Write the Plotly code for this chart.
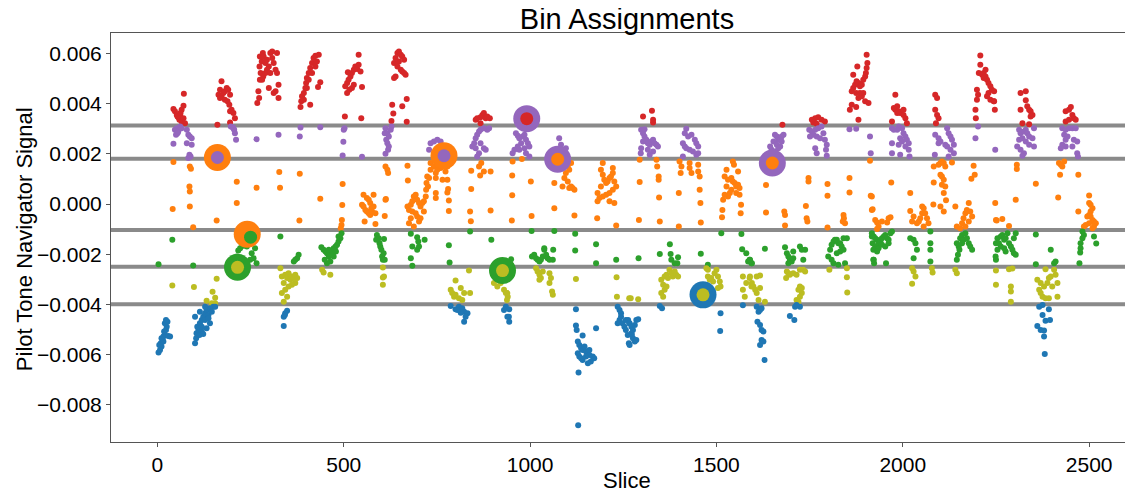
import plotly.graph_objects as go

# ---------------- data (slice index, pilot-tone signal) ----------------
bin_names = ["Bin 1", "Bin 2", "Bin 3", "Bin 4", "Bin 5", "Bin 6"]
bin_colors = ["#d62728", "#9467bd", "#ff7f0e", "#2ca02c", "#bcbd22", "#1f77b4"]
thresholds = [3.14e-3, 1.81e-3, -1.03e-3, -2.50e-3, -3.99e-3]

red_points = [
    (43, 3.79e-3), (47, 3.70e-3), (52, 3.56e-3), (56, 3.47e-3), (61, 3.56e-3), (65, 3.76e-3), (70, 3.92e-3), (71, 4.40e-3),
    (59, 3.37e-3), (65, 3.30e-3), (70, 3.43e-3), (74, 3.23e-3), (54, 3.50e-3), (62, 3.63e-3),
    (172, 4.90e-3), (168, 4.56e-3), (164, 4.36e-3), (172, 4.30e-3), (177, 4.43e-3), (181, 4.50e-3), (186, 4.63e-3), (190, 4.56e-3),
    (195, 4.36e-3), (168, 4.23e-3), (181, 4.16e-3), (188, 4.10e-3), (193, 3.96e-3), (199, 3.76e-3), (195, 3.70e-3), (204, 3.63e-3),
    (208, 3.43e-3), (195, 3.26e-3), (161, 3.17e-3),
    (271, 4.50e-3), (268, 4.03e-3), (273, 4.23e-3), (275, 4.96e-3), (277, 5.23e-3), (274, 5.49e-3), (280, 5.69e-3), (275, 5.89e-3),
    (283, 6.03e-3), (284, 5.09e-3),
    (285, 5.89e-3), (290, 5.63e-3), (294, 5.76e-3), (299, 5.49e-3), (303, 6.03e-3), (308, 5.83e-3), (312, 5.63e-3), (317, 5.36e-3),
    (321, 5.23e-3), (308, 6.09e-3), (321, 6.03e-3), (290, 5.23e-3), (281, 4.96e-3), (299, 4.63e-3), (317, 4.50e-3), (325, 4.76e-3),
    (325, 4.23e-3), (312, 4.43e-3), (294, 5.36e-3), (303, 5.23e-3),
    (384, 3.87e-3), (386, 4.10e-3), (388, 4.30e-3), (393, 4.43e-3), (397, 4.63e-3), (399, 4.83e-3), (401, 5.03e-3), (406, 5.23e-3),
    (410, 5.43e-3), (415, 5.63e-3), (419, 5.83e-3), (424, 5.92e-3), (433, 5.96e-3), (406, 4.96e-3), (415, 5.23e-3), (424, 5.49e-3),
    (428, 5.69e-3), (410, 3.96e-3), (431, 4.67e-3), (437, 4.86e-3), (393, 4.16e-3), (401, 4.63e-3),
    (503, 3.50e-3), (504, 4.70e-3), (509, 4.83e-3), (513, 4.96e-3), (518, 5.09e-3), (522, 5.23e-3), (527, 5.36e-3), (531, 5.49e-3),
    (536, 5.39e-3), (540, 5.56e-3), (545, 5.29e-3), (540, 5.96e-3), (509, 4.43e-3), (515, 4.56e-3), (522, 4.63e-3), (527, 4.76e-3),
    (549, 4.67e-3), (547, 3.43e-3), (511, 5.26e-3),
    (635, 5.63e-3), (639, 5.83e-3), (644, 6.03e-3), (648, 6.09e-3), (653, 5.96e-3), (657, 5.89e-3), (662, 5.76e-3), (648, 5.69e-3),
    (644, 5.49e-3), (653, 5.36e-3), (657, 5.29e-3), (662, 5.23e-3), (639, 5.09e-3), (666, 5.16e-3), (635, 5.03e-3), (630, 3.96e-3),
    (633, 3.61e-3), (657, 3.90e-3), (669, 4.19e-3), (669, 3.29e-3), (628, 3.32e-3),
    (854, 3.37e-3), (858, 3.43e-3), (867, 3.47e-3), (872, 3.56e-3), (876, 3.63e-3), (881, 3.43e-3), (885, 3.50e-3), (892, 3.43e-3),
    (867, 3.23e-3),
    (1303, 3.50e-3), (1327, 3.72e-3), (1330, 3.37e-3), (1330, 3.26e-3),
    (1677, 3.17e-3), (1756, 3.37e-3), (1765, 3.43e-3), (1773, 3.47e-3), (1782, 3.37e-3), (1791, 3.30e-3), (1760, 3.26e-3), (1769, 3.21e-3),
    (1858, 3.76e-3), (1863, 3.96e-3), (1863, 4.50e-3), (1867, 4.63e-3), (1872, 4.76e-3), (1876, 4.90e-3), (1881, 4.83e-3), (1885, 4.70e-3),
    (1890, 4.76e-3), (1894, 4.96e-3), (1899, 5.09e-3), (1901, 5.23e-3), (1903, 5.43e-3), (1905, 5.63e-3), (1903, 5.96e-3), (1878, 5.49e-3),
    (1867, 5.16e-3), (1875, 4.43e-3), (1881, 4.23e-3), (1890, 4.30e-3), (1899, 4.10e-3), (1908, 4.03e-3), (1894, 4.43e-3), (1885, 4.43e-3),
    (1881, 3.37e-3), (1875, 3.87e-3),
    (1980, 4.36e-3), (1976, 3.83e-3), (1980, 3.76e-3), (1985, 3.90e-3), (1989, 3.70e-3), (1993, 3.63e-3), (2002, 3.76e-3), (2002, 3.56e-3),
    (2007, 3.43e-3), (2011, 3.23e-3), (1971, 3.30e-3), (1985, 3.63e-3),
    (2087, 4.36e-3), (2092, 4.23e-3), (2087, 3.76e-3), (2092, 3.56e-3), (2096, 3.43e-3), (2089, 3.23e-3),
    (2208, 5.93e-3), (2208, 5.56e-3), (2204, 5.23e-3), (2213, 5.16e-3), (2217, 5.23e-3), (2222, 5.09e-3), (2226, 4.96e-3), (2230, 4.83e-3),
    (2235, 4.70e-3), (2239, 4.56e-3), (2230, 4.43e-3), (2226, 4.30e-3), (2235, 4.16e-3), (2244, 4.10e-3), (2199, 4.56e-3), (2202, 4.36e-3),
    (2199, 4.16e-3), (2195, 3.76e-3), (2196, 3.43e-3), (2222, 5.36e-3), (2217, 5.03e-3),
    (2245, 4.50e-3), (2245, 4.10e-3), (2247, 3.76e-3),
    (2316, 4.43e-3), (2330, 4.50e-3), (2330, 4.14e-3), (2316, 3.76e-3), (2334, 3.90e-3), (2339, 3.76e-3), (2343, 3.70e-3), (2348, 3.56e-3),
    (2343, 3.50e-3), (2321, 3.23e-3), (2339, 3.19e-3),
    (2437, 3.70e-3), (2446, 3.76e-3), (2451, 3.87e-3), (2455, 3.56e-3), (2459, 3.43e-3), (2464, 3.37e-3), (2446, 3.37e-3), (2437, 3.30e-3),
]

purple_points = [
    (43, 2.41e-3), (47, 2.97e-3), (52, 3.03e-3), (56, 2.90e-3), (61, 3.10e-3), (50, 2.77e-3), (54, 2.83e-3), (65, 3.03e-3),
    (79, 2.97e-3), (83, 2.77e-3), (87, 2.70e-3), (92, 2.63e-3), (79, 2.43e-3), (92, 2.37e-3), (86, 1.97e-3), (89, 1.90e-3), (83, 1.84e-3),
    (197, 3.10e-3), (202, 3.07e-3), (206, 2.97e-3), (208, 2.83e-3), (211, 2.57e-3), (204, 3.03e-3), (266, 2.59e-3),
    (325, 2.77e-3), (384, 3.06e-3), (382, 2.70e-3), (437, 3.07e-3), (500, 2.97e-3), (502, 3.03e-3), (499, 2.49e-3), (497, 1.94e-3),
    (549, 1.89e-3), (610, 2.83e-3), (614, 2.57e-3), (612, 2.01e-3),
    (612, 3.03e-3), (617, 2.83e-3), (621, 2.70e-3), (626, 2.97e-3), (617, 2.43e-3), (619, 2.17e-3), (621, 2.30e-3), (628, 3.10e-3),
    (733, 2.43e-3), (742, 2.50e-3), (751, 2.57e-3), (760, 2.50e-3), (729, 2.17e-3),
    (845, 2.30e-3), (850, 2.43e-3), (854, 2.63e-3), (858, 2.77e-3), (863, 2.90e-3), (867, 2.97e-3), (876, 3.03e-3), (885, 2.97e-3),
    (890, 3.03e-3), (867, 2.43e-3), (876, 2.23e-3), (881, 2.17e-3), (863, 2.03e-3), (858, 1.90e-3), (854, 2.23e-3),
    (962, 2.83e-3), (967, 2.73e-3), (971, 2.63e-3), (980, 2.70e-3), (985, 2.77e-3), (989, 2.57e-3), (994, 2.43e-3), (998, 2.30e-3),
    (976, 2.43e-3), (967, 2.30e-3), (958, 2.17e-3), (953, 2.03e-3), (985, 2.23e-3), (989, 2.03e-3), (998, 1.90e-3), (971, 2.17e-3),
    (1078, 2.63e-3), (1096, 2.23e-3), (1083, 2.37e-3), (1087, 2.17e-3),
    (1298, 2.97e-3), (1303, 2.83e-3), (1307, 2.70e-3), (1312, 2.57e-3), (1316, 2.43e-3), (1321, 2.37e-3), (1325, 2.50e-3), (1330, 2.57e-3),
    (1334, 2.43e-3), (1339, 2.37e-3), (1343, 2.30e-3), (1303, 2.50e-3), (1298, 2.23e-3), (1297, 2.03e-3), (1316, 2.17e-3), (1330, 2.10e-3),
    (1321, 1.97e-3), (1307, 2.99e-3),
    (1419, 3.01e-3), (1415, 2.83e-3), (1424, 2.70e-3), (1433, 2.77e-3), (1442, 2.57e-3), (1446, 2.43e-3), (1451, 2.30e-3), (1410, 2.43e-3),
    (1415, 2.30e-3), (1419, 2.23e-3), (1428, 2.17e-3), (1437, 2.10e-3), (1446, 1.97e-3), (1410, 1.90e-3), (1451, 2.03e-3),
    (1657, 2.77e-3), (1662, 2.70e-3), (1666, 2.57e-3), (1671, 2.63e-3), (1675, 2.70e-3), (1680, 2.77e-3), (1653, 2.50e-3), (1662, 2.37e-3),
    (1671, 2.30e-3), (1648, 2.17e-3), (1657, 2.10e-3), (1666, 2.23e-3), (1639, 1.97e-3), (1644, 2.30e-3), (1675, 2.50e-3),
    (1749, 2.97e-3), (1756, 2.90e-3), (1765, 2.97e-3), (1773, 3.03e-3), (1782, 3.10e-3), (1787, 2.83e-3), (1791, 2.57e-3), (1796, 2.37e-3),
    (1794, 2.17e-3), (1796, 1.93e-3), (1760, 2.77e-3), (1769, 2.70e-3), (1778, 2.63e-3), (1765, 2.23e-3), (1769, 2.03e-3), (1751, 2.70e-3),
    (1857, 2.99e-3), (1875, 3.01e-3), (1912, 2.70e-3), (1914, 2.03e-3),
    (1971, 3.03e-3), (1976, 2.97e-3), (1989, 3.10e-3), (1998, 3.03e-3), (2002, 2.83e-3), (2007, 2.70e-3), (2011, 2.57e-3), (2016, 2.43e-3),
    (1993, 2.63e-3), (1998, 2.50e-3), (2007, 2.30e-3), (2016, 2.17e-3), (1971, 2.43e-3), (1971, 2.03e-3), (1989, 2.37e-3), (1993, 1.97e-3),
    (2018, 1.90e-3), (1985, 2.97e-3),
    (2087, 2.77e-3), (2086, 1.97e-3), (2096, 2.63e-3), (2101, 2.50e-3), (2119, 3.03e-3), (2123, 2.83e-3), (2128, 2.70e-3), (2132, 2.57e-3),
    (2137, 2.37e-3), (2119, 2.30e-3), (2128, 2.17e-3), (2137, 2.03e-3), (2123, 1.90e-3), (2114, 2.37e-3), (2096, 2.43e-3),
    (2202, 3.10e-3), (2195, 2.63e-3), (2248, 2.17e-3),
    (2312, 2.97e-3), (2316, 2.83e-3), (2325, 2.90e-3), (2330, 2.97e-3), (2334, 2.83e-3), (2339, 2.70e-3), (2352, 3.03e-3), (2312, 2.57e-3),
    (2321, 2.63e-3), (2330, 2.50e-3), (2339, 2.37e-3), (2348, 2.63e-3), (2352, 2.30e-3), (2307, 2.30e-3), (2316, 2.17e-3), (2325, 2.03e-3),
    (2321, 1.93e-3),
    (2428, 3.03e-3), (2437, 2.97e-3), (2446, 3.03e-3), (2455, 3.03e-3), (2464, 3.03e-3), (2433, 2.77e-3), (2442, 2.70e-3), (2437, 2.57e-3),
    (2459, 2.57e-3), (2468, 2.50e-3), (2428, 2.37e-3), (2437, 2.30e-3), (2455, 2.30e-3), (2424, 2.23e-3), (2468, 2.03e-3), (2470, 1.90e-3),
]

orange_points = [
    (41, -0.19e-3), (43, 1.68e-3), (87, 1.50e-3), (90, 1.41e-3), (86, 0.70e-3), (87, 0.50e-3), (87, -0.09e-3), (96, -0.92e-3),
    (213, 0.89e-3), (213, 0.04e-3), (159, -0.65e-3), (266, 0.65e-3),
    (327, 1.28e-3), (329, 0.65e-3), (382, 1.21e-3), (381, -0.65e-3), (437, 0.21e-3), (497, 0.80e-3), (496, -0.04e-3), (495, -0.63e-3),
    (494, -0.83e-3), (492, -0.96e-3),
    (549, -0.03e-3), (553, -0.09e-3), (558, -0.23e-3), (562, -0.29e-3), (567, -0.36e-3), (571, -0.43e-3), (576, -0.29e-3), (580, -0.09e-3),
    (562, 0.24e-3), (567, 0.17e-3), (571, 0.04e-3), (553, 0.37e-3), (580, 0.37e-3), (585, -0.36e-3), (556, -0.69e-3), (585, -0.79e-3),
    (574, -0.16e-3),
    (612, 1.50e-3), (613, 0.20e-3), (610, -0.47e-3), (617, 1.37e-3), (619, 1.24e-3), (671, 1.53e-3), (672, 0.94e-3), (612, 0.17e-3),
    (671, -0.09e-3), (675, -0.23e-3), (680, -0.03e-3), (684, 0.11e-3), (688, 0.30e-3), (693, 0.37e-3), (697, 0.17e-3), (702, 0.04e-3),
    (706, -0.09e-3), (711, 0.04e-3), (715, 0.11e-3), (720, 0.30e-3), (684, -0.29e-3), (693, -0.36e-3), (697, -0.49e-3), (706, -0.56e-3),
    (715, -0.29e-3), (680, -0.56e-3), (675, -0.76e-3), (688, -0.89e-3), (702, -0.69e-3), (724, 1.10e-3), (722, 0.84e-3), (721, 0.57e-3),
    (726, 0.70e-3),
    (733, 1.64e-3), (742, 1.50e-3), (751, 1.37e-3), (760, 1.44e-3), (778, 1.50e-3), (773, 1.30e-3), (733, 1.37e-3), (747, 1.24e-3),
    (729, 1.04e-3), (747, 1.04e-3), (765, 0.97e-3), (778, 0.97e-3), (780, 0.60e-3), (778, 0.46e-3), (782, 0.14e-3), (782, -0.27e-3),
    (747, 0.44e-3), (747, 0.24e-3),
    (839, -0.29e-3), (841, -0.68e-3), (842, 0.60e-3), (842, 1.33e-3), (863, 1.50e-3), (866, 1.14e-3), (876, 1.30e-3), (894, 1.30e-3),
    (869, 1.64e-3), (894, -0.25e-3),
    (953, 1.70e-3), (952, 1.14e-3), (952, 0.35e-3), (951, -0.65e-3), (1002, 0.90e-3), (1004, -0.47e-3), (978, 1.80e-3),
    (1083, 1.64e-3), (1092, 1.57e-3), (1101, 1.50e-3), (1105, 1.37e-3), (1096, 1.24e-3), (1092, 1.04e-3), (1101, 0.90e-3), (1110, 0.70e-3),
    (1114, 0.64e-3), (1119, 0.57e-3), (1105, 0.64e-3), (1087, 0.70e-3), (1110, 1.64e-3), (1065, 0.84e-3), (1065, -0.16e-3), (1119, -0.45e-3),
    (1195, 1.64e-3), (1190, 1.37e-3), (1195, 1.17e-3), (1199, 0.97e-3), (1204, 0.84e-3), (1208, 0.90e-3), (1213, 1.04e-3), (1217, 1.10e-3),
    (1222, 1.24e-3), (1226, 0.90e-3), (1231, 0.70e-3), (1222, 0.57e-3), (1213, 0.44e-3), (1204, 0.37e-3), (1195, 0.30e-3), (1186, 0.24e-3),
    (1181, 0.11e-3), (1190, 0.70e-3), (1181, 0.44e-3), (1213, 0.11e-3), (1226, 0.04e-3), (1222, 1.44e-3), (1180, -0.56e-3), (1231, -0.85e-3),
    (1294, 1.77e-3), (1294, 0.88e-3), (1292, -0.63e-3), (1339, 1.77e-3), (1341, 1.50e-3), (1345, 1.10e-3), (1345, 0.97e-3), (1346, 0.26e-3),
    (1348, -0.69e-3), (1399, 0.44e-3), (1399, -0.89e-3), (1401, 1.70e-3), (1406, 1.50e-3), (1404, 1.24e-3), (1428, 1.64e-3), (1428, 1.44e-3),
    (1433, 1.24e-3), (1451, 1.57e-3), (1451, 1.30e-3), (1455, 1.10e-3), (1455, 0.57e-3), (1457, 0.04e-3), (1458, -0.73e-3),
    (1544, 1.70e-3), (1547, 1.57e-3), (1527, 1.37e-3), (1522, 1.10e-3), (1531, 0.97e-3), (1540, 1.04e-3), (1544, 0.90e-3), (1549, 0.84e-3),
    (1553, 0.70e-3), (1558, 0.77e-3), (1562, 0.64e-3), (1540, 0.57e-3), (1536, 0.44e-3), (1531, 0.30e-3), (1522, 0.37e-3), (1518, 0.17e-3),
    (1527, 0.70e-3), (1553, 0.44e-3), (1562, 0.37e-3), (1558, 1.30e-3), (1566, -0.03e-3), (1565, -0.36e-3), (1516, -0.23e-3), (1515, -0.52e-3),
    (1633, 0.76e-3), (1633, -0.33e-3), (1682, -0.29e-3), (1684, -0.43e-3), (1684, -0.85e-3), (1742, -0.56e-3), (1744, -0.69e-3), (1740, -0.07e-3),
    (1747, 1.04e-3), (1747, 0.90e-3), (1798, 0.80e-3), (1798, 0.33e-3), (1798, -0.93e-3), (1841, -0.43e-3), (1842, -0.56e-3), (1845, -0.76e-3),
    (1839, -0.69e-3), (1857, 1.04e-3), (1857, 0.46e-3), (1912, 1.73e-3), (1914, 0.33e-3), (1917, -0.23e-3),
    (1917, 0.30e-3), (1919, -0.20e-3), (1926, -0.63e-3), (1931, -0.73e-3), (1935, -0.89e-3), (1931, -0.99e-3), (1944, -0.69e-3), (1958, -0.73e-3),
    (1962, -0.56e-3), (1967, -0.52e-3), (1969, 0.86e-3),
    (2020, 0.44e-3), (2020, -0.27e-3), (2025, -0.69e-3), (2029, -0.49e-3), (2038, -0.76e-3), (2043, -0.69e-3), (2047, -0.56e-3), (2052, -0.36e-3),
    (2052, -0.09e-3), (2056, -0.16e-3), (2060, -0.36e-3), (2065, -0.56e-3), (2069, -0.76e-3), (2056, -0.89e-3),
    (2083, 1.50e-3), (2096, 1.57e-3), (2101, 1.64e-3), (2105, 1.70e-3), (2110, 1.64e-3), (2114, 1.50e-3), (2132, 1.66e-3), (2101, 1.17e-3),
    (2105, 1.10e-3), (2110, 0.97e-3), (2105, 0.77e-3), (2114, 0.70e-3), (2110, 0.44e-3), (2116, 0.15e-3), (2101, -0.09e-3), (2110, -0.29e-3),
    (2083, 0.86e-3), (2082, -0.02e-3),
    (2141, -0.09e-3), (2145, -0.89e-3), (2154, -0.96e-3), (2159, -0.76e-3), (2163, -0.56e-3), (2168, -0.36e-3), (2172, -0.23e-3), (2177, 0.04e-3),
    (2181, -0.29e-3), (2186, -0.49e-3), (2177, -0.69e-3), (2168, -0.89e-3), (2184, 1.01e-3), (2193, 1.17e-3), (2190, 1.53e-3), (2248, 0.04e-3),
    (2250, -0.63e-3),
    (2252, -0.65e-3), (2267, -0.59e-3), (2285, -0.87e-3), (2303, 0.17e-3), (2306, 1.57e-3), (2306, 1.40e-3), (2357, 0.81e-3),
    (2419, 1.64e-3), (2424, 1.57e-3), (2428, 1.50e-3), (2422, 1.17e-3), (2433, 1.70e-3), (2471, 1.17e-3), (2417, 0.26e-3), (2471, -0.29e-3),
    (2500, 0.34e-3), (2500, 0.04e-3), (2504, -0.03e-3), (2509, -0.16e-3), (2504, -0.29e-3), (2500, -0.43e-3), (2495, -0.49e-3), (2504, -0.49e-3),
    (2509, -0.63e-3), (2513, -0.69e-3), (2518, -0.76e-3), (2513, -0.89e-3), (2509, -0.96e-3), (2500, -0.76e-3), (2491, -0.83e-3), (2486, -0.89e-3),
]

green_points = [
    (3, -2.40e-3), (40, -1.42e-3), (96, -2.45e-3), (217, -1.85e-3), (222, -1.76e-3), (231, -1.66e-3), (240, -1.69e-3), (253, -1.96e-3),
    (258, -2.16e-3), (266, -2.36e-3), (249, -2.22e-3), (262, -1.76e-3), (226, -1.56e-3), (213, -2.09e-3),
    (330, -1.29e-3), (366, -2.29e-3), (370, -2.22e-3), (375, -2.16e-3), (379, -2.02e-3),
    (440, -1.72e-3), (446, -1.82e-3), (451, -1.89e-3), (455, -1.96e-3), (460, -2.09e-3), (464, -2.02e-3), (469, -1.89e-3), (473, -1.76e-3),
    (478, -1.69e-3), (482, -1.62e-3), (486, -1.49e-3), (491, -1.36e-3), (494, -1.16e-3), (486, -1.29e-3), (479, -1.89e-3), (473, -2.09e-3),
    (464, -2.29e-3), (455, -2.36e-3), (449, -2.22e-3), (460, -1.82e-3),
    (589, -1.23e-3), (594, -1.36e-3), (596, -1.56e-3), (598, -1.69e-3), (601, -1.82e-3), (603, -2.09e-3), (605, -2.22e-3), (607, -1.96e-3),
    (587, -1.42e-3), (608, -1.39e-3), (610, -2.22e-3),
    (680, -1.18e-3), (697, -1.32e-3), (700, -1.49e-3), (697, -1.82e-3), (684, -1.69e-3), (717, -1.42e-3), (680, -2.16e-3), (684, -2.46e-3),
    (702, -1.69e-3), (782, -1.64e-3), (784, -2.33e-3), (839, -1.09e-3), (896, -1.42e-3),
    (949, -2.20e-3), (1004, -1.07e-3), (1005, -2.09e-3), (1011, -2.02e-3), (1016, -2.16e-3), (1020, -2.22e-3), (1025, -2.29e-3), (1029, -2.22e-3),
    (1034, -2.09e-3), (1038, -1.82e-3), (1043, -2.02e-3), (1047, -2.16e-3), (1052, -2.22e-3), (1061, -2.22e-3), (1062, -1.82e-3), (1038, -1.76e-3),
    (1065, -1.07e-3), (1121, -1.18e-3), (1121, -1.85e-3), (1177, -1.60e-3), (1177, -2.36e-3), (1231, -2.22e-3),
    (1291, -2.16e-3), (1348, -1.99e-3), (1375, -1.60e-3), (1377, -1.99e-3), (1379, -2.22e-3), (1397, -2.12e-3), (1395, -2.36e-3), (1388, -2.36e-3),
    (1458, -1.98e-3), (1477, -2.42e-3), (1513, -1.16e-3), (1567, -1.19e-3), (1569, -1.80e-3), (1580, -1.96e-3), (1585, -2.29e-3), (1589, -2.22e-3),
    (1594, -2.36e-3),
    (1590, -2.22e-3), (1595, -2.36e-3), (1630, -1.78e-3), (1684, -1.72e-3), (1689, -1.96e-3), (1693, -2.09e-3), (1697, -2.22e-3), (1702, -2.29e-3),
    (1706, -2.16e-3), (1706, -1.89e-3), (1724, -1.69e-3), (1729, -1.82e-3), (1738, -1.82e-3), (1733, -2.22e-3), (1693, -2.36e-3),
    (1800, -2.09e-3), (1805, -1.82e-3), (1809, -1.62e-3), (1814, -1.49e-3), (1818, -1.42e-3), (1823, -1.42e-3), (1827, -1.56e-3), (1832, -1.56e-3),
    (1836, -1.69e-3), (1841, -1.82e-3), (1832, -1.89e-3), (1823, -1.96e-3), (1809, -2.22e-3), (1814, -2.36e-3), (1827, -2.42e-3), (1845, -2.36e-3),
    (1850, -1.36e-3), (1841, -1.36e-3),
    (1917, -1.29e-3), (1919, -1.56e-3), (1921, -1.82e-3), (1921, -2.22e-3), (1923, -2.36e-3),
    (1917, -1.16e-3), (1922, -1.29e-3), (1926, -1.36e-3), (1931, -1.42e-3), (1935, -1.56e-3), (1940, -1.49e-3), (1944, -1.36e-3), (1949, -1.29e-3),
    (1953, -1.23e-3), (1958, -1.36e-3), (1962, -1.42e-3), (1967, -1.16e-3), (1971, -1.09e-3), (1926, -1.69e-3), (1935, -1.76e-3), (1944, -1.62e-3),
    (1953, -1.69e-3), (1931, -1.89e-3), (1922, -2.22e-3), (1955, -2.36e-3), (1962, -1.56e-3),
    (2020, -1.36e-3), (2029, -1.42e-3), (2034, -1.56e-3), (2038, -1.82e-3), (2029, -2.16e-3), (2074, -1.09e-3), (2074, -1.56e-3), (2074, -1.82e-3),
    (2074, -2.29e-3),
    (2145, -1.56e-3), (2150, -1.69e-3), (2152, -1.82e-3), (2148, -2.02e-3), (2145, -2.22e-3), (2154, -1.36e-3), (2159, -1.23e-3), (2163, -1.42e-3),
    (2168, -1.16e-3), (2172, -1.36e-3), (2177, -1.56e-3), (2181, -1.69e-3), (2186, -1.82e-3), (2159, -1.56e-3),
    (2250, -1.56e-3), (2250, -2.22e-3),
    (2254, -1.36e-3), (2258, -1.56e-3), (2263, -1.29e-3), (2267, -1.23e-3), (2272, -1.42e-3), (2276, -1.36e-3), (2281, -1.16e-3), (2285, -1.56e-3),
    (2290, -1.69e-3), (2294, -1.82e-3), (2298, -1.96e-3), (2303, -2.02e-3), (2272, -1.76e-3), (2263, -1.69e-3), (2254, -1.82e-3), (2249, -2.09e-3),
    (2276, -1.89e-3), (2298, -1.36e-3), (2303, -1.16e-3),
    (2357, -1.21e-3), (2357, -2.40e-3), (2397, -1.82e-3), (2406, -2.36e-3), (2410, -2.29e-3),
    (2482, -1.09e-3), (2486, -1.23e-3), (2482, -1.36e-3), (2477, -1.56e-3), (2477, -1.76e-3), (2476, -1.93e-3), (2474, -2.36e-3), (2513, -1.29e-3),
    (2519, -1.57e-3),
]

olive_points = [
    (40, -3.25e-3), (98, -3.31e-3), (159, -2.98e-3), (148, -3.50e-3), (155, -3.73e-3), (132, -3.85e-3), (146, -3.95e-3), (155, -3.95e-3),
    (330, -2.56e-3), (334, -2.89e-3), (339, -3.15e-3), (343, -2.82e-3), (348, -2.95e-3), (352, -2.76e-3), (357, -3.02e-3), (361, -2.89e-3),
    (366, -2.95e-3), (370, -2.82e-3), (375, -2.95e-3), (370, -3.15e-3), (361, -3.22e-3), (352, -3.29e-3), (343, -3.42e-3), (348, -3.69e-3),
    (339, -3.89e-3), (334, -3.55e-3),
    (442, -2.62e-3), (446, -2.73e-3), (464, -2.82e-3), (605, -2.53e-3), (605, -2.93e-3), (605, -3.22e-3), (608, -2.89e-3),
    (800, -3.05e-3), (787, -3.42e-3), (791, -3.55e-3), (796, -3.69e-3), (800, -3.62e-3), (809, -3.75e-3), (818, -3.82e-3), (823, -3.55e-3),
    (814, -3.35e-3), (836, -2.65e-3), (839, -3.55e-3),
    (903, -3.15e-3), (912, -3.29e-3), (921, -3.15e-3), (930, -3.42e-3), (939, -3.55e-3), (917, -2.95e-3), (935, -3.55e-3), (940, -3.69e-3),
    (938, -3.82e-3),
    (1016, -2.56e-3), (1020, -2.69e-3), (1025, -2.82e-3), (1029, -2.95e-3), (1025, -3.02e-3), (1034, -2.69e-3), (1052, -2.76e-3), (1056, -2.95e-3),
    (1052, -3.15e-3), (1059, -3.49e-3), (1061, -3.62e-3), (1123, -2.99e-3),
    (1232, -2.92e-3), (1233, -3.69e-3), (1266, -3.75e-3), (1270, -3.75e-3), (1290, -3.79e-3),
    (1352, -3.02e-3), (1357, -3.22e-3), (1361, -2.89e-3), (1366, -2.82e-3), (1370, -2.95e-3), (1374, -2.62e-3), (1379, -2.76e-3), (1383, -2.89e-3),
    (1388, -2.69e-3), (1392, -2.82e-3), (1397, -2.89e-3), (1352, -3.55e-3), (1357, -3.69e-3), (1361, -3.42e-3), (1366, -3.29e-3),
    (1473, -2.56e-3), (1477, -2.62e-3), (1477, -2.89e-3), (1482, -3.02e-3), (1486, -2.95e-3), (1491, -3.09e-3), (1495, -2.76e-3), (1500, -2.62e-3),
    (1504, -2.89e-3), (1509, -3.09e-3), (1511, -3.29e-3), (1504, -3.35e-3),
    (1571, -2.89e-3), (1571, -3.42e-3), (1576, -3.69e-3), (1580, -3.15e-3), (1589, -2.95e-3), (1594, -3.29e-3),
    (1590, -2.89e-3), (1595, -3.15e-3), (1599, -3.29e-3), (1604, -3.42e-3), (1608, -3.55e-3), (1613, -3.82e-3), (1617, -3.35e-3), (1608, -2.89e-3),
    (1617, -2.85e-3), (1630, -3.89e-3),
    (1689, -2.69e-3), (1693, -2.76e-3), (1697, -2.82e-3), (1706, -2.76e-3), (1715, -2.82e-3), (1724, -2.62e-3), (1733, -2.62e-3), (1738, -2.69e-3),
    (1687, -2.95e-3), (1724, -3.29e-3), (1720, -3.42e-3), (1729, -3.55e-3), (1724, -3.69e-3), (1715, -3.82e-3), (1720, -3.89e-3), (1729, -3.35e-3),
    (1803, -2.62e-3), (1850, -2.56e-3), (1850, -2.92e-3), (1851, -3.53e-3),
    (2025, -2.56e-3), (2029, -2.69e-3), (2034, -2.89e-3), (2025, -3.18e-3), (2078, -2.56e-3), (2080, -2.73e-3), (2141, -2.62e-3), (2145, -2.76e-3),
    (2250, -2.65e-3), (2250, -3.22e-3), (2285, -2.60e-3), (2294, -2.57e-3), (2290, -3.29e-3), (2290, -3.49e-3), (2290, -3.89e-3),
    (2383, -2.60e-3), (2392, -2.95e-3), (2397, -2.89e-3), (2406, -2.62e-3), (2410, -2.82e-3), (2415, -3.15e-3), (2388, -3.15e-3), (2379, -3.29e-3),
    (2370, -3.15e-3), (2361, -3.02e-3), (2366, -3.42e-3), (2375, -3.69e-3), (2383, -3.75e-3), (2392, -3.75e-3), (2415, -3.69e-3), (2370, -3.55e-3),
    (2401, -3.29e-3),
]

blue_points = [
    (3, -5.92e-3), (7, -5.82e-3), (11, -5.68e-3), (9, -5.55e-3), (14, -5.42e-3), (16, -5.28e-3), (20, -5.22e-3), (29, -5.26e-3),
    (34, -5.28e-3), (18, -5.08e-3), (23, -5.02e-3), (25, -4.89e-3), (20, -4.75e-3), (27, -4.69e-3), (23, -4.62e-3), (16, -5.48e-3),
    (11, -5.35e-3), (5, -5.62e-3),
    (101, -5.55e-3), (104, -5.35e-3), (105, -5.15e-3), (110, -5.02e-3), (107, -4.89e-3), (114, -4.75e-3), (119, -4.62e-3), (123, -4.49e-3),
    (128, -4.35e-3), (132, -4.22e-3), (141, -4.15e-3), (150, -4.09e-3), (155, -4.09e-3), (137, -4.42e-3), (128, -4.62e-3), (141, -4.75e-3),
    (132, -4.95e-3), (119, -5.08e-3), (113, -5.22e-3), (123, -5.18e-3), (101, -4.49e-3), (114, -4.29e-3), (128, -4.09e-3), (146, -4.29e-3),
    (137, -4.55e-3), (119, -4.89e-3),
    (339, -4.49e-3), (343, -4.35e-3), (348, -4.25e-3), (339, -4.86e-3), (342, -4.42e-3),
    (787, -4.06e-3), (800, -4.19e-3), (809, -4.09e-3), (818, -4.15e-3), (823, -4.29e-3), (832, -4.35e-3), (827, -4.49e-3), (823, -4.69e-3),
    (814, -4.33e-3), (805, -4.22e-3), (930, -4.22e-3), (939, -4.49e-3),
    (935, -4.09e-3), (944, -4.19e-3), (943, -4.49e-3), (944, -4.69e-3),
    (1123, -4.19e-3), (1123, -4.84e-3), (1125, -5.02e-3), (1141, -5.24e-3), (1177, -4.95e-3), (1128, -5.48e-3), (1132, -5.62e-3), (1137, -5.75e-3),
    (1141, -5.82e-3), (1146, -5.68e-3), (1150, -5.88e-3), (1155, -5.95e-3), (1159, -6.02e-3), (1168, -6.08e-3), (1172, -6.15e-3), (1163, -6.28e-3),
    (1155, -6.35e-3), (1141, -6.22e-3), (1132, -6.08e-3), (1128, -5.95e-3), (1137, -6.15e-3), (1150, -6.08e-3), (1159, -5.82e-3), (1130, -6.72e-3),
    (1129, -8.82e-3),
    (1235, -4.09e-3), (1240, -4.22e-3), (1244, -4.35e-3), (1240, -4.62e-3), (1248, -4.75e-3), (1253, -4.89e-3), (1257, -5.02e-3), (1262, -5.22e-3),
    (1265, -5.55e-3), (1244, -4.49e-3), (1235, -4.75e-3), (1257, -4.62e-3), (1266, -4.75e-3),
    (1263, -4.62e-3), (1267, -4.75e-3), (1272, -4.89e-3), (1276, -5.02e-3), (1281, -4.82e-3), (1285, -4.62e-3), (1290, -4.59e-3), (1272, -5.15e-3),
    (1276, -5.35e-3), (1281, -5.48e-3), (1267, -5.62e-3), (1285, -5.42e-3), (1273, -5.22e-3), (1348, -4.06e-3), (1354, -4.15e-3), (1571, -4.03e-3),
    (1511, -4.35e-3), (1510, -5.06e-3),
    (1608, -4.09e-3), (1613, -4.29e-3), (1617, -4.22e-3), (1621, -4.15e-3), (1610, -4.69e-3), (1617, -4.82e-3), (1621, -5.02e-3), (1626, -5.08e-3),
    (1621, -5.42e-3), (1626, -5.48e-3), (1617, -5.62e-3), (1629, -6.22e-3), (1711, -4.09e-3), (1724, -4.09e-3), (1715, -4.02e-3), (1697, -4.46e-3),
    (1709, -4.62e-3),
    (2366, -4.09e-3), (2375, -4.02e-3), (2392, -4.19e-3), (2375, -4.42e-3), (2383, -4.65e-3), (2395, -4.62e-3), (2361, -4.86e-3), (2370, -5.02e-3),
    (2379, -5.04e-3), (2379, -5.28e-3), (2381, -5.98e-3),
]

# highlighted samples: outer ring colour = one bin, inner dot colour = another bin
hl_outer_slice = [161, 241, 215, 769, 926, 991, 1074, 1464, 1650]
hl_outer_signal = [1.86e-3, -1.20e-3, -2.52e-3, 1.93e-3, -2.65e-3, 3.41e-3, 1.79e-3, -3.62e-3, 1.64e-3]
hl_outer_bin = [2, 2, 3, 2, 3, 1, 1, 5, 1]
hl_inner_slice = [161, 250, 215, 769, 926, 991, 1074, 1464, 1650]
hl_inner_signal = [1.86e-3, -1.32e-3, -2.52e-3, 1.93e-3, -2.65e-3, 3.41e-3, 1.79e-3, -3.62e-3, 1.64e-3]
hl_inner_bin = [1, 3, 4, 1, 4, 0, 2, 4, 2]

x_ticks = [0, 500, 1000, 1500, 2000, 2500]
y_ticks = [-0.008, -0.006, -0.004, -0.002, 0.0, 0.002, 0.004, 0.006]

# ---------------- figure ----------------
FONT = "Liberation Sans, Arial, Helvetica, sans-serif"
fig = go.Figure()

all_bins = [red_points, purple_points, orange_points, green_points, olive_points, blue_points]
for name, color, pts in zip(bin_names, bin_colors, all_bins):
    fig.add_trace(go.Scatter(
        x=[p[0] for p in pts], y=[p[1] for p in pts], mode="markers", name=name,
        marker=dict(color=color, size=6, line=dict(width=0)), showlegend=False,
        hoverinfo="skip"))

fig.add_trace(go.Scatter(
    x=hl_outer_slice, y=hl_outer_signal, mode="markers", showlegend=False,
    marker=dict(color=[bin_colors[b] for b in hl_outer_bin], size=27, line=dict(width=0))))
fig.add_trace(go.Scatter(
    x=hl_inner_slice, y=hl_inner_signal, mode="markers", showlegend=False,
    marker=dict(color=[bin_colors[b] for b in hl_inner_bin], size=13, line=dict(width=0))))

for t in thresholds:
    fig.add_shape(type="line", xref="paper", x0=0, x1=1, yref="y", y0=t, y1=t,
                  line=dict(color="#8a8a8a", width=4), layer="below")

axis_common = dict(showgrid=False, zeroline=False, showline=True, linecolor="#555555", linewidth=1,
                   ticks="outside", ticklen=4, tickwidth=1, tickcolor="#555555",
                   tickfont=dict(family=FONT, size=21, color="#000000"))

fig.update_xaxes(range=[-124.5, 2617.7], tickvals=x_ticks, mirror=True, **axis_common)
fig.update_yaxes(range=[-9.489e-3, 6.826e-3], tickvals=y_ticks, tickformat=".3f", mirror=False, **axis_common)

# the page body adds an 8 px offset, so the layout is shifted up/left by 8 px
fig.update_layout(
    width=1133, height=490,
    margin=dict(l=103, r=8, t=25, b=56, pad=0),
    plot_bgcolor="white", paper_bgcolor="white",
    title=dict(text="Bin Assignments", font=dict(family=FONT, size=29, color="#000000"),
               x=619 / 1133, xref="container", xanchor="center",
               y=1 - 11 / 490, yref="container", yanchor="middle"),
    annotations=[
        dict(text="Slice", xref="paper", yref="paper", x=0.5049, y=-0.093,
             xanchor="center", yanchor="middle", showarrow=False,
             font=dict(family=FONT, size=22, color="#000000")),
        dict(text="Pilot Tone Navigator Signal", xref="paper", yref="paper", x=-0.0851, y=0.496,
             xanchor="center", yanchor="middle", textangle=-90, showarrow=False,
             font=dict(family=FONT, size=22, color="#000000")),
    ],
)

fig.write_html("out.html")
